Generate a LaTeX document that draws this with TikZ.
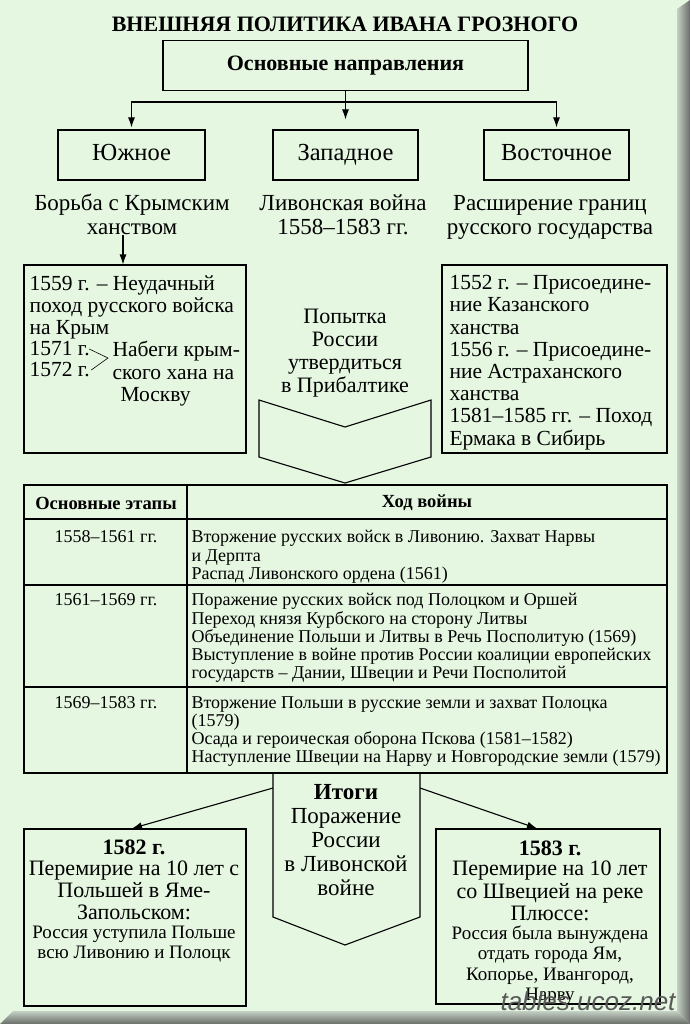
\documentclass[tikz,border=0pt]{standalone}
\usepackage{fontspec}
\setmainfont{Liberation Serif}
\setsansfont{Liberation Sans}
\usetikzlibrary{positioning, calc, arrows.meta}

\definecolor{fon}{RGB}{229,246,225}
\definecolor{faska1}{RGB}{196,208,196}
\definecolor{faska2}{RGB}{104,110,104}

\begin{document}
\begin{tikzpicture}[x=1pt,y=-1pt]
	\tikzstyle{every path}=[line width=1.1pt]
	\tikzstyle{blok}=[draw, inner sep=0pt]
	\tikzstyle{strelka}=[-{Latex[length=10pt,width=7pt]}]
	\tikzstyle{zag}=[font=\bfseries\fontsize{22}{24}\selectfont, inner sep=0pt]
	\tikzstyle{napr}=[font=\fontsize{24.5}{26}\selectfont, text height=16.5pt, text depth=5pt]
	\tikzstyle{podp}=[font=\fontsize{23}{24}\selectfont, align=center, inner sep=0pt]
	\tikzstyle{tekst}=[font=\fontsize{21.5}{22.2}\selectfont, inner sep=0pt]
	\tikzstyle{melk}=[font=\fontsize{19}{20.5}\selectfont, align=center, inner sep=0pt]
	\tikzstyle{tabl}=[font=\fontsize{18}{18.2}\selectfont, inner sep=0pt]
	\tikzstyle{tablzag}=[font=\bfseries\fontsize{18.5}{19}\selectfont, inner sep=0pt]
	
	%% Фон и рамка
	\useasboundingbox (0,0) rectangle (690,1024);
	\fill[fon] (0,0) rectangle (690,1024);
	\shade[left color=faska1, right color=faska2] (677,9) -- (690,0) -- (690,1024) -- (677,1011) -- cycle;
	\shade[top color=faska1, bottom color=faska2] (0,1024) -- (13,1011) -- (677,1011) -- (690,1024) -- cycle;
	
	%% Заголовок
	\node[zag] (titul) at (345,24) {ВНЕШНЯЯ ПОЛИТИКА ИВАНА ГРОЗНОГО};
	\node[blok, zag, minimum width=365pt, minimum height=50pt] (osn) at (345.5,65.5) {Основные направления};
	
	%% Направления
	\node[blok, napr, minimum width=147pt, minimum height=50pt] (yuzh) at (131.5,155) {Южное};
	\node[blok, napr, minimum width=145pt, minimum height=50pt] (zap) at (345.5,155) {Западное};
	\node[blok, napr, minimum width=145pt, minimum height=50pt] (vost) at (556.5,155) {Восточное};
	
	\coordinate (razv) at (345.5,102);
	\draw (osn.south) -- (razv);
	\draw[strelka, shorten >=2pt] (razv) -| (yuzh.north);
	\draw[strelka, shorten >=2pt] (razv) -| (vost.north);
	\draw[strelka, shorten >=10pt] (razv) -- (zap.north);
	
	\node[podp, anchor=north] (yuzhtxt) at (132,193) {\strut Борьба с Крымским\\ханством};
	\node[podp, anchor=north] (zaptxt) at (343,193) {\strut Ливонская война\\1558--1583 гг.};
	\node[podp, anchor=north] (vosttxt) at (550,193) {\strut Расширение границ\\русского государства};
	
	%% Южное направление
	\node[blok, minimum width=222pt, minimum height=188pt] (krym) at (135,359) {};
	\draw[strelka] ([xshift=-9pt]yuzhtxt.south) -- ([xshift=-9pt]yuzhtxt.south |- krym.north);
	\node[tekst, align=left, anchor=north west] (krym1) at (29,275) {1559 г. -- Неудачный\\поход русского войска\\на Крым};
	\node[tekst, anchor=west] (g1571) at (29,349) {1571 г.};
	\node[tekst, anchor=west] (g1572) at (29,370) {1572 г.};
	\coordinate (skob) at (108,358);
	\draw[line width=0.6pt] ([xshift=-1pt]g1571.east) -- (skob) -- ([xshift=1pt]g1572.east);
	\node[tekst, align=left, anchor=north west] (nabegi) at (112,341) {Набеги крым-\\ского хана на\\\hspace{8pt}Москву};
	
	%% Западное направление
	\node[tekst, align=center, font=\fontsize{22}{23}\selectfont] (popytka) at (345,353) {Попытка\\России\\утвердиться\\в Прибалтике};
	\draw (259,400) -- (345,427) -- (431,400) -- (431,457) -- (345,483) -- (259,457) -- cycle;
	
	%% Восточное направление
	\node[blok, minimum width=225pt, minimum height=188pt] (kazan) at (554.5,359) {};
	\node[tekst, align=left, anchor=north west] (kazan1) at (449,275) {1552 г. -- Присоедине-\\ние Казанского\\ханства\\1556 г. -- Присоедине-\\ние Астраханского\\ханства\\1581--1585 гг. -- Поход\\Ермака в Сибирь};
	
	%% Таблица
	\draw (24,485) rectangle (667,773);
	\draw (187,485) -- (187,773);
	\foreach \y in {519,585,687}
		\draw (24,\y) -- (667,\y);
	\node[tablzag] (etapy) at (106,503) {Основные этапы};
	\node[tablzag] (hod) at (427,503) {Ход войны};
	
	\node[tabl, anchor=north] (per1) at (106,530) {1558--1561 гг.};
	\node[tabl, anchor=north west, align=left] (hod1) at (191,530) {Вторжение русских войск в Ливонию. Захват Нарвы\\и Дерпта\\Распад Ливонского ордена (1561)};
	\node[tabl, anchor=north] (per2) at (106,593) {1561--1569 гг.};
	\node[tabl, anchor=north west, align=left] (hod2) at (191,593) {Поражение русских войск под Полоцком и Оршей\\Переход князя Курбского на сторону Литвы\\Объединение Польши и Литвы в Речь Посполитую (1569)\\Выступление в войне против России коалиции европейских\\государств -- Дании, Швеции и Речи Посполитой};
	\node[tabl, anchor=north] (per3) at (106,696) {1569--1583 гг.};
	\node[tabl, anchor=north west, align=left] (hod3) at (191,696) {Вторжение Польши в русские земли и захват Полоцка\\(1579)\\Осада и героическая оборона Пскова (1581--1582)\\Наступление Швеции на Нарву и Новгородские земли (1579)};
	
	%% Итоги
	\draw (273,773) -- (273,917) -- (345,945) -- (420,917) -- (420,773);
	\node[podp, font=\fontsize{23}{24}\selectfont] (itogi) at (346,840) {\textbf{Итоги}\\Поражение\\России\\в Ливонской\\войне};
	
	\node[blok, minimum width=222pt, minimum height=177pt] (mir1582) at (135,917.5) {};
	\node[blok, minimum width=224pt, minimum height=175pt] (mir1583) at (548,916.5) {};
	\coordinate (itL) at (273,788);
	\coordinate (itR) at (420,788);
	\draw[strelka] (itL) -- ([xshift=-3pt]mir1582.north);
	\draw[strelka] (itR) -- ([xshift=-11pt]mir1583.north);
	
	\node[zag] (god1582) at (134,847) {1582 г.};
	\node[tekst, align=center, font=\fontsize{22}{22}\selectfont] (usl1582) at (134,890) {Перемирие на 10 лет с\\Польшей в Яме-\\Запольском:};
	\node[melk] (itog1582) at (134,944) {Россия уступила Польше\\всю Ливонию и Полоцк};
	
	\node[zag] (god1583) at (550,848) {1583 г.};
	\node[tekst, align=center, font=\fontsize{22}{22.5}\selectfont] (usl1583) at (550,891) {Перемирие на 10 лет\\со Швецией на реке\\Плюссе:};
	\node[melk] (itog1583) at (550,965) {Россия была вынуждена\\отдать города Ям,\\Копорье, Ивангород,\\Нарву};
	
	%% Надпись сайта
	\node[font=\sffamily\itshape\fontsize{26}{26}\selectfont, text=black!65] (sait) at (588,1001) {tables.ucoz.net};
\end{tikzpicture}
\end{document}
